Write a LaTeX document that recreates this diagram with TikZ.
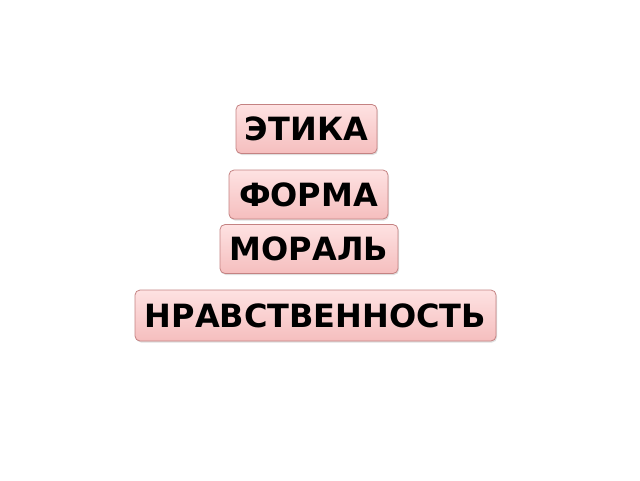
\documentclass[tikz,border=0pt]{standalone}
\usepackage{fontspec}
\usepackage{tikz}
\usetikzlibrary{shadows}
\newfontfamily\wordfont{DejaVu Sans}
\definecolor{boxtop}{RGB}{254,226,226}
\definecolor{boxbot}{RGB}{245,190,190}
\definecolor{boxline}{RGB}{196,130,130}
\tikzset{
    wordbox/.style={draw=boxline, line width=0.8pt, rounded corners=5pt,
        top color=boxtop, bottom color=boxbot, minimum height=49pt,
        inner sep=0pt, font=\wordfont\bfseries\fontsize{32}{34}\selectfont,
        drop shadow={shadow xshift=1pt, shadow yshift=-1.5pt, opacity=0.25}}
}
\begin{document}
\begin{tikzpicture}
    \useasboundingbox (0,0) rectangle (640pt,-480pt);
    \node[wordbox, minimum width=141pt] (etika) at (306.5pt,-129pt) {ЭТИКА};
    \node[wordbox, minimum width=159pt] (forma) at (308.5pt,-194.5pt) {ФОРМА};
    \node[wordbox, minimum width=178pt] (moral) at (309pt,-249pt) {МОРАЛЬ};
    \node[wordbox, minimum width=361pt, minimum height=51pt] (nravst) at (315.5pt,-315.5pt) {НРАВСТВЕННОСТЬ};
\end{tikzpicture}
\end{document}
